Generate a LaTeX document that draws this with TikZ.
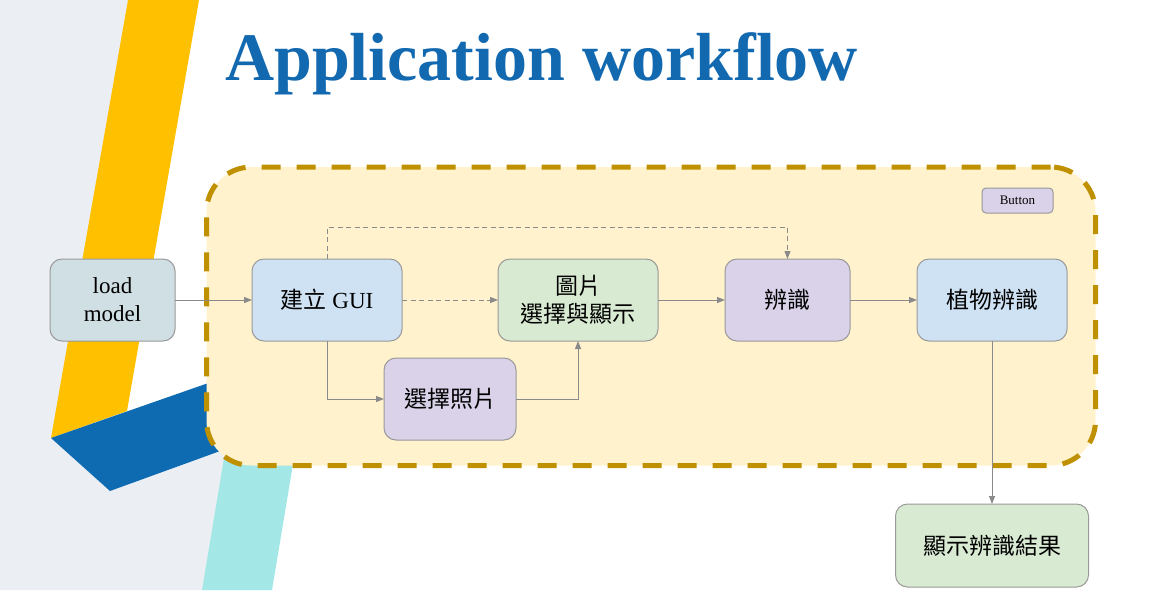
\documentclass[tikz,border=0pt]{standalone}
\usepackage{fontspec}
\setmainfont{Liberation Serif}
\newfontfamily\cjk{Noto Sans CJK TC}
\usepackage{xcolor}
\usepackage{tikz}
\usetikzlibrary{positioning,arrows.meta}
\definecolor{slidegray}{HTML}{EBEEF3}
\definecolor{bandyellow}{HTML}{FFC000}
\definecolor{bandblue}{HTML}{0E6BB2}
\definecolor{bandcyan}{HTML}{A3E8E6}
\definecolor{titleblue}{HTML}{1269B0}
\definecolor{panelfill}{HTML}{FFF2CC}
\definecolor{paneldash}{HTML}{BF9000}
\definecolor{boxline}{HTML}{999999}
\definecolor{flowgray}{HTML}{8A8A8A}
\definecolor{loadfill}{HTML}{D0DFE3}
\definecolor{guiblue}{HTML}{CFE2F3}
\definecolor{picgreen}{HTML}{D9EAD3}
\definecolor{recogpurple}{HTML}{D9D2E9}
\tikzstyle{stage}=[rectangle, draw=boxline, line width=1pt, outer sep=0pt, rounded corners=12pt, fill=white, text centered, align=center, minimum height=82pt, font=\fontsize{23}{28}\selectfont]
\tikzstyle{panel}=[rectangle, draw=paneldash, fill=panelfill, line width=5pt, dash pattern=on 19pt off 16pt, rounded corners=45pt]
\tikzstyle{arrow}=[-{Triangle[length=8pt,width=6pt]}, draw=flowgray, line width=1pt]
\tikzstyle{dasharrow}=[arrow, dash pattern=on 5pt off 3.5pt]

\begin{document}
\begin{tikzpicture}[x=1pt, y=1pt, node distance=1.5cm]
        \useasboundingbox (0,0) rectangle (1150,-590);
        % slide background
        \fill[slidegray] (0,0) -- (140,0) -- (51,-438) -- (110,-491) -- (240,-444) -- (202,-590) -- (0,-590) -- cycle;
        \fill[bandcyan] (227,-440) -- (297,-440) -- (272,-590) -- (202,-590) -- cycle;
        \fill[bandyellow] (128,0) -- (199,0) -- (127,-411) -- (51,-438) -- cycle;
        \fill[bandblue] (51,-438) -- (300,-351) -- (300,-422) -- (110,-491) -- cycle;

        \node[anchor=base west, inner sep=0pt, text=titleblue, font=\fontsize{68}{70}\selectfont\bfseries] (title) at (225,-80) {Application workflow};

        \node[panel, minimum width=889pt, minimum height=298.5pt] (panel) at (651,-316.25) {};

        \node[stage, fill=loadfill, minimum width=125pt] (load) at (112.5,-300) {load\\model};
        \node[stage, fill=guiblue, minimum width=150pt, right=77pt of load] (gui) {{\cjk 建立} GUI};
        \node[stage, fill=picgreen, minimum width=160pt, right=96pt of gui] (pic) {{\cjk 圖片}\\{\cjk 選擇與顯示}};
        \node[stage, fill=recogpurple, minimum width=125pt, right=67pt of pic] (recog) {\cjk 辨識};
        \node[stage, fill=guiblue, minimum width=150pt, right=67pt of recog] (plant) {\cjk 植物辨識};
        \node[stage, fill=recogpurple, minimum width=132pt] (photo) at (450,-399) {\cjk 選擇照片};
        \node[stage, fill=picgreen, minimum width=193pt, minimum height=83pt, below=163pt of plant] (result) {\cjk 顯示辨識結果};
        \node[stage, fill=recogpurple, minimum width=71pt, minimum height=25pt, rounded corners=4pt, font=\fontsize{13}{15}\selectfont] (button) at (1017.5,-200.5) {Button};

        \draw[arrow] (load) -- (gui);
        \draw[dasharrow] (gui) -- (pic);
        \draw[dasharrow] (gui.north) -- ++(0,32) -| (recog.north);
        \draw[arrow] (gui) |- (photo);
        \draw[arrow] (photo) -| (pic);
        \draw[arrow] (pic) -- (recog);
        \draw[arrow] (recog) -- (plant);
        \draw[arrow] (plant) -- (result);
    \end{tikzpicture}
\end{document}
